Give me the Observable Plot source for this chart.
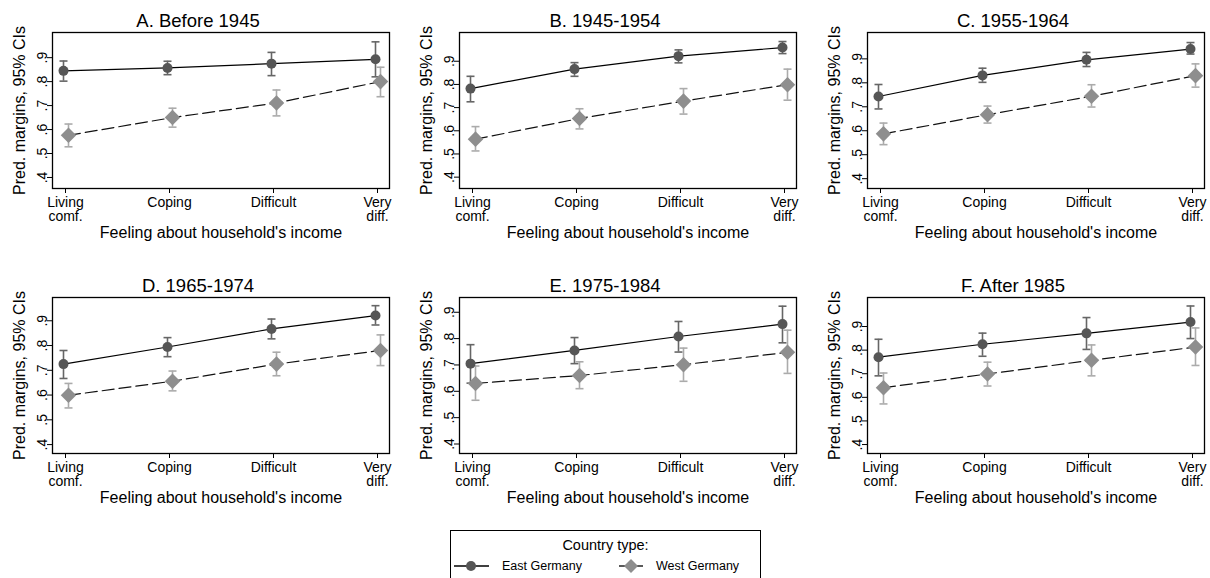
<!DOCTYPE html>
<html>
<head>
<meta charset="utf-8">
<script src="https://cdn.jsdelivr.net/npm/d3@7"></script>
<script src="https://cdn.jsdelivr.net/npm/@observablehq/plot@0.6"></script>
<style>
  body { margin: 0; background: #fff; font-family: "Liberation Sans", Arial, sans-serif; }
  #wrap { position: relative; width: 1210px; height: 578px; overflow: hidden; background: #fff; }
  .panel { position: absolute; }
  #legend { position: absolute; left: 450px; top: 530px; width: 311px; height: 70px; border: 1px solid #000; box-sizing: border-box; }
  #legend .ttl { position: absolute; left: 0; right: 0; top: 6px; text-align: center; font-size: 14.5px; }
  #legend .item { position: absolute; top: 28px; font-size: 12.5px; display: flex; align-items: center; }
  #legend .item span { margin-left: 13px; }
</style>
</head>
<body>
<div id="wrap"></div>
<script>
// ---- data ----
const categories = ["Living comf.", "Coping", "Difficult", "Very diff."];
const tickLabels = ["Living\ncomf.", "Coping", "Difficult", "Very\ndiff."];
const panelTitles = ["A. Before 1945", "B. 1945-1954", "C. 1955-1964", "D. 1965-1974", "E. 1975-1984", "F. After 1985"];
const yTicks = [0.4, 0.5, 0.6, 0.7, 0.8, 0.9];
const seriesNames = ["East Germany", "West Germany"];

const eastMargin = [
  [0.845, 0.857, 0.875, 0.893],
  [0.782, 0.866, 0.922, 0.959],
  [0.743, 0.831, 0.896, 0.941],
  [0.725, 0.794, 0.867, 0.921],
  [0.705, 0.755, 0.808, 0.855],
  [0.770, 0.825, 0.871, 0.919]
];
const eastLow = [
  [0.802, 0.829, 0.825, 0.820],
  [0.725, 0.835, 0.893, 0.933],
  [0.691, 0.802, 0.868, 0.920],
  [0.667, 0.755, 0.827, 0.883],
  [0.631, 0.705, 0.749, 0.784],
  [0.691, 0.774, 0.803, 0.849]
];
const eastHigh = [
  [0.886, 0.885, 0.922, 0.966],
  [0.835, 0.894, 0.949, 0.985],
  [0.793, 0.861, 0.927, 0.968],
  [0.780, 0.832, 0.907, 0.961],
  [0.777, 0.804, 0.865, 0.923],
  [0.846, 0.872, 0.938, 0.987]
];
const westMargin = [
  [0.576, 0.650, 0.711, 0.800],
  [0.564, 0.653, 0.728, 0.799],
  [0.587, 0.667, 0.744, 0.830],
  [0.599, 0.656, 0.725, 0.780],
  [0.630, 0.660, 0.701, 0.748],
  [0.641, 0.699, 0.757, 0.813]
];
const westLow = [
  [0.528, 0.610, 0.657, 0.737],
  [0.513, 0.608, 0.672, 0.732],
  [0.542, 0.632, 0.699, 0.782],
  [0.548, 0.617, 0.678, 0.719],
  [0.566, 0.610, 0.638, 0.668],
  [0.572, 0.648, 0.691, 0.735]
];
const westHigh = [
  [0.623, 0.689, 0.765, 0.860],
  [0.618, 0.695, 0.782, 0.866],
  [0.632, 0.703, 0.792, 0.879],
  [0.647, 0.697, 0.773, 0.843],
  [0.696, 0.712, 0.764, 0.832],
  [0.703, 0.749, 0.822, 0.894]
];

// ---- layout / style ----
const yDomains = [[0.354, 1.005], [0.351, 1.024], [0.359, 1.01], [0.364, 0.994], [0.364, 0.956], [0.362, 1.023]];
const panelLeft = [0, 407, 815];
const panelTop = [0, 265];
const W = 395, H = 250, ML = 52, MR = 6, MT = 32, MB = 62;
const FONT = "'Liberation Sans', Arial, sans-serif";
const EAST_PT = "#565656", EAST_CI = "#666666";
const WEST_PT = "#8e8e8e", WEST_CI = "#ababab";
const fmt = d => d.toFixed(1).replace(/^0/, "");

// horizontal cap symbol for the CI whiskers
const capSymbol = {
  draw(ctx, size) {
    const r = Math.sqrt(size / Math.PI);
    ctx.moveTo(-r, 0);
    ctx.lineTo(r, 0);
  }
};

function rows(est, lo, hi) {
  return categories.map((c, i) => ({cat: c, est: est[i], lo: lo[i], hi: hi[i]}));
}

const wrap = document.getElementById("wrap");

panelTitles.forEach((title, p) => {
  const east = rows(eastMargin[p], eastLow[p], eastHigh[p]);
  const west = rows(westMargin[p], westLow[p], westHigh[p]);
  const eDx = -2, wDx = 3;
  const chart = Plot.plot({
    width: W, height: H,
    marginLeft: ML, marginRight: MR, marginTop: MT, marginBottom: MB,
    style: {fontFamily: FONT, fontSize: "14px", color: "#000", background: "#fff", overflow: "visible"},
    x: {type: "point", domain: categories, padding: 0.12},
    y: {domain: yDomains[p]},
    marks: [
      Plot.axisX({tickSize: 5, tickPadding: 4, fontSize: 14, label: null,
        tickFormat: d => tickLabels[categories.indexOf(d)], stroke: "#000"}),
      Plot.axisY({ticks: yTicks, tickSize: 5, tickFormat: () => "", label: null, stroke: "#000"}),
      Plot.text(yTicks, {y: d => d, text: fmt, frameAnchor: "left", textAnchor: "middle", rotate: -90, lineAnchor: "bottom", dx: -6, fontSize: 14}),
      Plot.text(["Pred. margins, 95% CIs"], {frameAnchor: "left", textAnchor: "middle", rotate: -90, lineAnchor: "top", dx: -39, fontSize: 16}),
      Plot.text(["Feeling about household's income"], {frameAnchor: "bottom", lineAnchor: "bottom", dy: 49, fontSize: 16}),
      Plot.text([title], {frameAnchor: "top", lineAnchor: "bottom", dy: -6, dx: -(ML - MR) / 2, fontSize: 18.5}),
      Plot.frame({stroke: "#000", strokeWidth: 1.3}),
      // East Germany CIs
      Plot.ruleX(east, {x: "cat", y1: "lo", y2: "hi", stroke: EAST_CI, strokeWidth: 1.6, dx: eDx}),
      Plot.dot(east, {x: "cat", y: "lo", symbol: capSymbol, r: 4, fill: "none", stroke: EAST_CI, strokeWidth: 1.6, dx: eDx}),
      Plot.dot(east, {x: "cat", y: "hi", symbol: capSymbol, r: 4, fill: "none", stroke: EAST_CI, strokeWidth: 1.6, dx: eDx}),
      // West Germany CIs
      Plot.ruleX(west, {x: "cat", y1: "lo", y2: "hi", stroke: WEST_CI, strokeWidth: 1.6, dx: wDx}),
      Plot.dot(west, {x: "cat", y: "lo", symbol: capSymbol, r: 4, fill: "none", stroke: WEST_CI, strokeWidth: 1.6, dx: wDx}),
      Plot.dot(west, {x: "cat", y: "hi", symbol: capSymbol, r: 4, fill: "none", stroke: WEST_CI, strokeWidth: 1.6, dx: wDx}),
      // lines
      Plot.line(east, {x: "cat", y: "est", stroke: "#000", strokeWidth: 1.2, dx: eDx}),
      Plot.line(west, {x: "cat", y: "est", stroke: "#111", strokeWidth: 1.2, strokeDasharray: "12,5", dx: wDx}),
      // markers
      Plot.dot(east, {x: "cat", y: "est", r: 5, fill: EAST_PT, stroke: "none", dx: eDx}),
      Plot.dot(west, {x: "cat", y: "est", r: 7, symbol: "diamond2", fill: WEST_PT, stroke: "none", dx: wDx})
    ]
  });
  const div = document.createElement("div");
  div.className = "panel";
  div.style.left = panelLeft[p % 3] + "px";
  div.style.top = panelTop[Math.floor(p / 3)] + "px";
  div.appendChild(chart);
  wrap.appendChild(div);
});

// legend
const legend = document.createElement("div");
legend.id = "legend";
legend.innerHTML = `<div class="ttl">Country type:</div>`;
const legendItems = [
  {left: 3, sym: `<circle cx="17" cy="7" r="5" fill="${EAST_PT}"/>`},
  {left: 168, sym: `<path d="M12 0 L19 7 L12 14 L5 7 Z" fill="${WEST_PT}"/>`}
];
seriesNames.forEach((name, i) => {
  const it = document.createElement("div");
  it.className = "item";
  it.style.left = legendItems[i].left + "px";
  const w = i === 0 ? 35 : 24;
  it.innerHTML = `<svg width="${w}" height="14"><line x1="0" x2="${w}" y1="7" y2="7" stroke="#000" stroke-width="1.3"/>${legendItems[i].sym}</svg><span>${name}</span>`;
  legend.appendChild(it);
});
wrap.appendChild(legend);
</script>
</body>
</html>
